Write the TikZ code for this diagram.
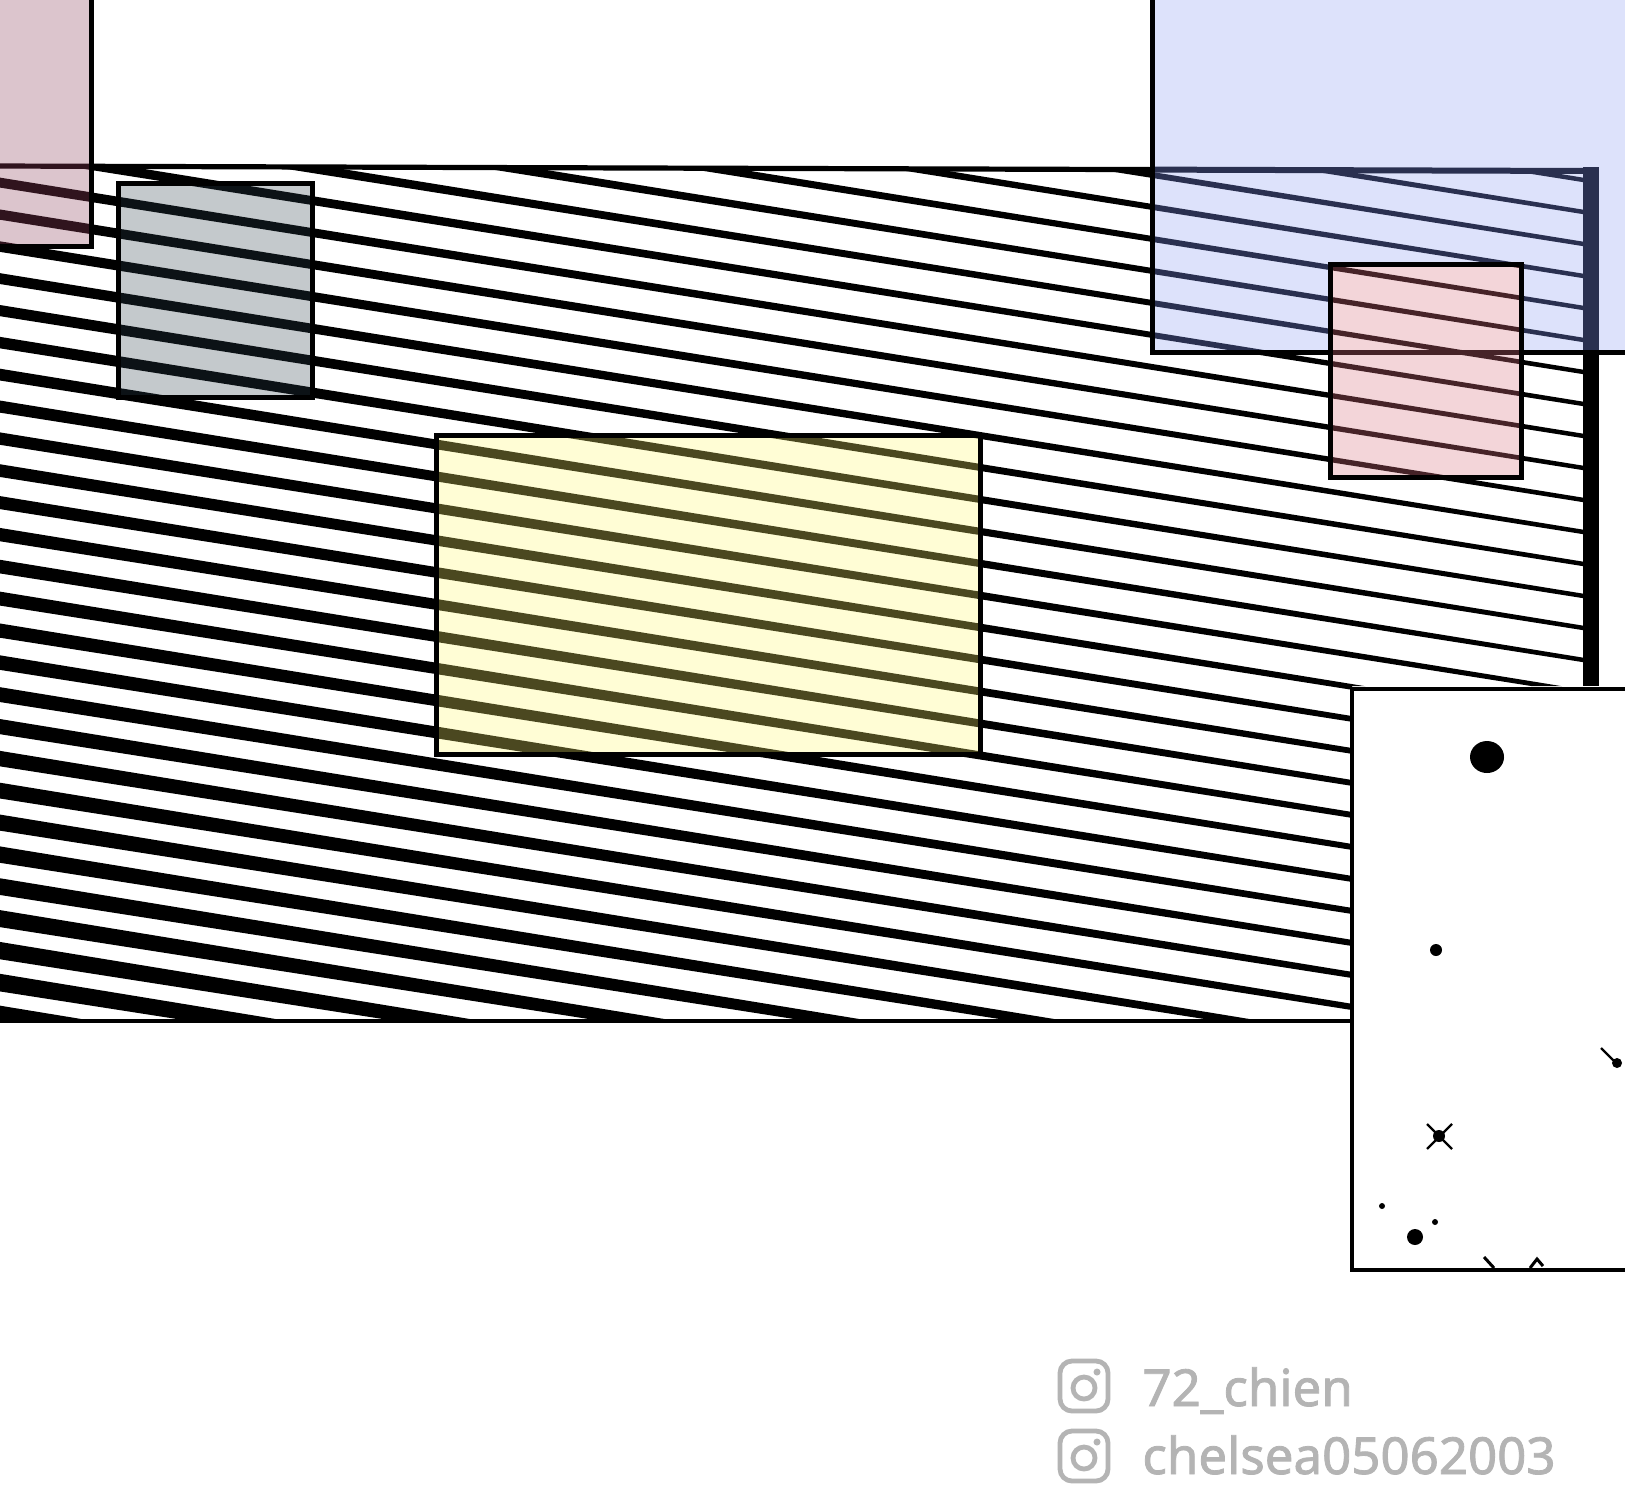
\documentclass[tikz,border=0pt]{standalone}
\usepackage{fontspec}
\setmainfont{Noto Sans}
\newfontfamily\wmfont{Noto Sans}[FakeBold=1.6]
\definecolor{mauvef}{RGB}{220,197,205}
\definecolor{mauvel}{RGB}{48,20,30}
\definecolor{bluef}{RGB}{221,226,251}
\definecolor{bluel}{RGB}{42,48,80}
\definecolor{greyf}{RGB}{196,201,204}
\definecolor{greyl}{RGB}{12,18,22}
\definecolor{yelf}{RGB}{255,253,213}
\definecolor{yell}{RGB}{75,72,32}
\definecolor{pinkf}{RGB}{243,213,217}
\definecolor{pinkl}{RGB}{70,35,40}
\definecolor{wm}{RGB}{180,180,180}
\newcommand\hatchlines[1]{%
  \foreach \k in {-26,...,10}{%
    \pgfmathsetmacro\ya{725+32*\k}%
    \pgfmathsetmacro\wa{max(10,min(18,10+8*(\ya-180)/830))/2}%
    \pgfmathsetmacro\yb{\ya+0.16*1620}%
    \fill[#1] (-10,{\ya-\wa}) -- (1610,{\yb-2.2}) -- (1610,{\yb+2.2}) -- (-10,{\ya+\wa}) -- cycle;%
  }}
\newcommand\hatchclip{\clip (-5,166) -- (1591,171) -- (1591,1021) -- (-5,1021) -- cycle;}
\newcommand\tintbox[6]{%
  \begin{scope}
    \clip (#1,#2) rectangle (#3,#4);
    \fill[#5] (#1,#2) rectangle (#3,#4);
    \hatchclip
    \hatchlines{#6}
  \end{scope}}
\newcommand\igicon[2]{%
  \draw[wmline, rounded corners=6pt] ({#1-24},{#2-25}) rectangle ({#1+24},{#2+25});
  \draw[wmline] (#1,{#2+2}) circle[radius=11];
  \fill[wm] ({#1+13},{#2-14}) circle[radius=3.5];}
\tikzset{
  bord/.style={draw=black, line width=2.5pt},
  thinbord/.style={draw=black, line width=2pt},
  thick15/.style={line width=8pt},
  wmline/.style={draw=wm, line width=2.4pt},
  wmtext/.style={anchor=base west, text=wm, font=\wmfont\fontsize{25.5}{30}\selectfont, inner sep=0pt}
}
\begin{document}
\begin{tikzpicture}[x=0.5pt,y=-0.5pt]
\useasboundingbox (0,0) rectangle (1625,1484);
\fill[white] (0,0) rectangle (1625,1484);
% main hatching
\begin{scope}
  \clip (-5,166) -- (1591,171) -- (1591,686) -- (1352,686) -- (1352,1021) -- (-5,1021) -- cycle;
  \hatchlines{black}
\end{scope}
\draw[line width=2.6pt] (-5,166) -- (1152,169.6);
\draw[line width=2.2pt] (-5,1021) -- (1352,1021);
% mauve box
\tintbox{-5}{-5}{91}{246}{mauvef}{mauvel}
\begin{scope}
  \clip (-5,-5) rectangle (91,246);
  \draw[mauvel, line width=2.6pt] (-5,166) -- (91,166.3);
\end{scope}
\draw[bord] (91,-5) -- (91,246) -- (-5,246);
% blue box
\tintbox{1152}{-5}{1630}{352}{bluef}{bluel}
\begin{scope}
  \clip (1152,-5) rectangle (1630,352);
  \draw[bluel, line width=3pt] (1152,169.6) -- (1591,171);
  \draw[bluel, thick15] (1591,167) -- (1591,352);
\end{scope}
\draw[black, thick15] (1591,352) -- (1591,686);
\draw[bord] (1152,-5) -- (1152,352) -- (1630,352);
% grey box
\tintbox{118}{183}{312}{397}{greyf}{greyl}
\draw[bord] (118,183) rectangle (312,397);
% yellow box
\tintbox{436}{435}{980}{754}{yelf}{yell}
\draw[bord] (436,435) rectangle (980,754);
% pink box
\tintbox{1330}{264}{1521}{477}{pinkf}{pinkl}
\begin{scope}
  \clip (1330,264) rectangle (1521,477);
  \draw[pinkl, line width=2.5pt] (1330,352) -- (1521,352);
\end{scope}
\draw[bord] (1330,264) rectangle (1521,477);
% white box
\fill[white] (1352,689) rectangle (1630,1270);
\draw[thinbord] (1630,689) -- (1352,689) -- (1352,1270) -- (1630,1270);
% specks
\fill (1487,757) ellipse [x radius=17, y radius=16];
\fill (1436,950) circle [radius=6];
\draw[line width=1.2pt] (1601,1048) -- (1614,1061);
\fill (1617,1063) circle [radius=5];
\draw[line width=1.2pt] (1427,1124) -- (1452,1149) (1452,1124) -- (1427,1149);
\fill (1439,1136) circle [radius=6];
\fill (1382,1206) circle [radius=3];
\fill (1435,1222) circle [radius=3];
\fill (1415,1237) circle [radius=8];
\draw[line width=1.5pt] (1484,1257) -- (1494,1268);
\draw[line width=1.5pt] (1530,1268) -- (1537,1259) -- (1543,1266);
% watermark
\igicon{1084}{1386}
\igicon{1084}{1456}
\node[wmtext] (t1) at (1142,1406) {72\_chien};
\node[wmtext] (t2) at (1142,1474) {chelsea05062003};
\end{tikzpicture}
\end{document}
